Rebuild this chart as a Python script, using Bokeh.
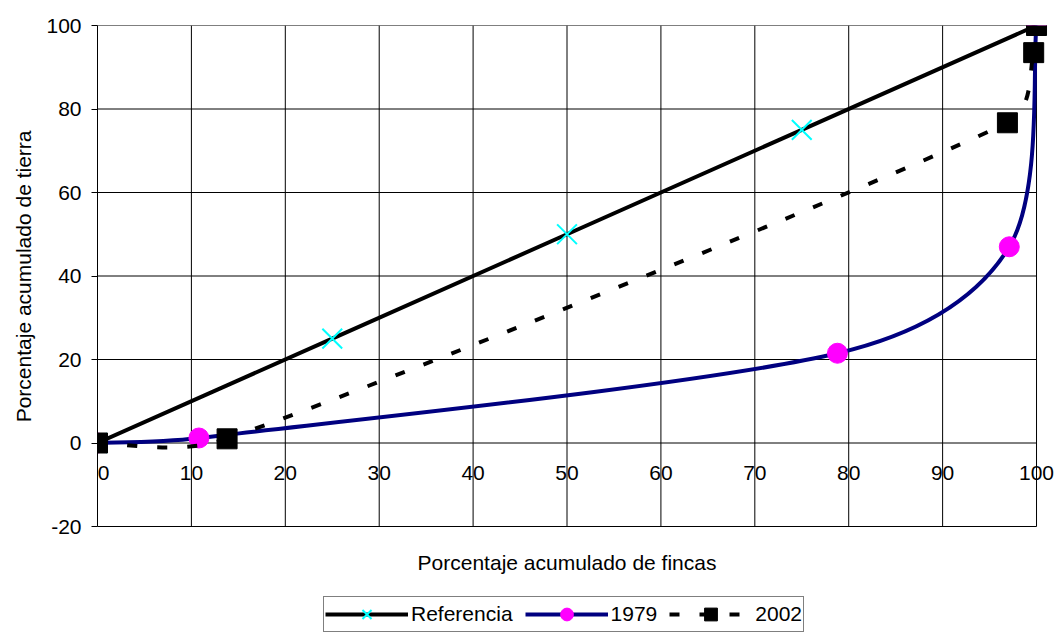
import math
from bokeh.plotting import figure
from bokeh.models import (ColumnDataSource, FixedTicker, Legend, LegendItem,
                          LabelSet, Label, Range1d, Title)
from bokeh.embed import file_html
from bokeh.resources import INLINE
from bokeh.core.properties import value

# ---------------- data ----------------
x_ticks = [0, 10, 20, 30, 40, 50, 60, 70, 80, 90, 100]
x_tick_labels = ["0", "10", "20", "30", "40", "50", "60", "70", "80", "90", "100"]
y_ticks = [-20, 0, 20, 40, 60, 80, 100]
y_tick_labels = ["-20", "0", "20", "40", "60", "80", "100"]

ref_x = [0, 25, 50, 75, 100]
ref_y = [0, 25, 50, 75, 100]

s1979_x = [0, 10.8, 78.8, 97.1, 100]
s1979_y = [0, 1.2, 21.5, 47.0, 100]

s2002_x = [0, 13.8, 96.9, 99.7, 100]
s2002_y = [0, 1.0, 76.7, 93.5, 100]

x_title = "Porcentaje acumulado de fincas"
y_title = "Porcentaje acumulado de tierra"
labels = ["Referencia", "1979", "2002"]

# ---------------- layout ----------------
FONT = "Liberation Sans"
FS = "21px"
W, H = 1057, 635
ML, MT = 96, 25
BOX_W, BOX_H = 940, 501          # plotting box for x 0..100, y -20..100
EXTRA_R = 19                     # frame continues right so the last tick label shows
MR = W - ML - BOX_W - EXTRA_R
MB = 0                           # frame continues down to hold the title and legend
XMIN, XMAX, YMIN, YMAX = 0, 100, -20, 100
KX = BOX_W / (XMAX - XMIN)
KY = BOX_H / (YMAX - YMIN)
X_FRAME_END = XMAX + EXTRA_R / KX
Y_FRAME_START = YMIN - (H - MT - BOX_H - MB) / KY


def smooth_segments(xs, ys, cap=0.4):
    """Bezier control points of a spreadsheet-style smoothed line."""
    n = len(xs)
    out = dict(x0=[], y0=[], x1=[], y1=[], cx0=[], cy0=[], cx1=[], cy1=[])
    for i in range(n - 1):
        xa, ya = xs[i], ys[i]
        xb, yb = xs[i + 1], ys[i + 1]
        xp, yp = (xs[i - 1], ys[i - 1]) if i > 0 else (xa, ya)
        xn, yn = (xs[i + 2], ys[i + 2]) if i + 2 < n else (xb, yb)
        seg = math.hypot((xb - xa) * KX, (yb - ya) * KY)
        t1x, t1y = (xb - xp) / 6.0, (yb - yp) / 6.0
        t2x, t2y = (xn - xa) / 6.0, (yn - ya) / 6.0
        l1 = math.hypot(t1x * KX, t1y * KY)
        l2 = math.hypot(t2x * KX, t2y * KY)
        if l1 > cap * seg and l1 > 0:
            s = cap * seg / l1
            t1x, t1y = t1x * s, t1y * s
        if l2 > cap * seg and l2 > 0:
            s = cap * seg / l2
            t2x, t2y = t2x * s, t2y * s
        out["x0"].append(xa); out["y0"].append(ya)
        out["x1"].append(xb); out["y1"].append(yb)
        out["cx0"].append(xa + t1x); out["cy0"].append(ya + t1y)
        out["cx1"].append(xb - t2x); out["cy1"].append(yb - t2y)
    return out


p = figure(width=W, height=H, x_range=Range1d(XMIN, X_FRAME_END),
           y_range=Range1d(Y_FRAME_START, YMAX),
           output_backend="svg", toolbar_location=None, x_axis_location=None,
           min_border_left=ML, min_border_right=MR, min_border_top=MT, min_border_bottom=MB)
p.background_fill_color = "white"
p.border_fill_color = "white"
p.outline_line_color = None
p.xgrid.visible = False
p.ygrid.visible = False

# grid lines limited to the box
p.segment(x0=[XMIN] * len(y_ticks), y0=y_ticks, x1=[XMAX] * len(y_ticks), y1=y_ticks,
          line_color="black", line_width=1)
p.segment(x0=x_ticks, y0=[YMIN] * len(x_ticks), x1=x_ticks, y1=[YMAX] * len(x_ticks),
          line_color="black", line_width=1)

# y axis
ya = p.yaxis[0]
ya.bounds = (YMIN, YMAX)
ya.ticker = FixedTicker(ticks=y_ticks)
ya.major_label_overrides = {t: s for t, s in zip(y_ticks, y_tick_labels)}
ya.major_tick_out = 6
ya.major_tick_in = 0
ya.minor_tick_out = 0
ya.minor_tick_in = 0
ya.axis_line_color = "black"
ya.major_tick_line_color = "black"
ya.major_label_text_font = FONT
ya.major_label_text_font_size = FS
ya.major_label_text_color = "black"
ya.major_label_standoff = 10

# y title: its top end 105 px below the frame top, centred on the box
p.add_layout(Title(text=y_title, align="right", offset=105, standoff=18,
                   text_font=FONT, text_font_size=FS, text_font_style="normal",
                   text_color="black"), "left")

# x tick labels at y = 0 and the x title below the box
tick_offsets = [6 if t == XMIN else 0 for t in x_ticks]
tick_src = ColumnDataSource(dict(x=x_ticks, y=[0] * len(x_ticks), text=x_tick_labels,
                                 dx=tick_offsets))
p.add_layout(LabelSet(x="x", y="y", text="text", source=tick_src,
                      text_align="center", text_baseline="top", y_offset=-23, x_offset="dx",
                      text_font=value(FONT), text_font_size=value(FS),
                      text_color="black"))
p.add_layout(Label(x=(XMIN + XMAX) / 2.0, y=YMIN, text=x_title, y_offset=-36,
                   text_align="center", text_baseline="middle",
                   text_font=FONT, text_font_size=FS, text_color="black"))

# Referencia
ref_line = p.line(ref_x, ref_y, line_color="black", line_width=4)
ref_pts = p.scatter(ref_x, ref_y, marker="x", size=28, line_color="#00FFFF", line_width=2)

# 1979
src79 = ColumnDataSource(smooth_segments(s1979_x, s1979_y))
b79 = p.bezier(x0="x0", y0="y0", x1="x1", y1="y1", cx0="cx0", cy0="cy0", cx1="cx1", cy1="cy1",
               source=src79, line_color="#000080", line_width=4)
pts79 = p.scatter(s1979_x, s1979_y, marker="circle", size=20,
                  fill_color="#FF00FF", line_color="#FF00FF")

# 2002
src02 = ColumnDataSource(smooth_segments(s2002_x, s2002_y))
b02 = p.bezier(x0="x0", y0="y0", x1="x1", y1="y1", cx0="cx0", cy0="cy0", cx1="cx1", cy1="cy1",
               source=src02, line_color="black", line_width=4, line_dash="10 20")
pts02 = p.scatter(s2002_x, s2002_y, marker="square", size=20,
                  fill_color="black", line_color="black")

legend = Legend(items=[LegendItem(label=labels[0], renderers=[ref_line, ref_pts]),
                       LegendItem(label=labels[1], renderers=[b79, pts79]),
                       LegendItem(label=labels[2], renderers=[b02, pts02])],
                orientation="horizontal", location=(226, 3),
                glyph_width=83, glyph_height=32, label_standoff=3, spacing=12,
                padding=1, margin=0,
                border_line_color="black", border_line_width=1,
                background_fill_color="white", background_fill_alpha=1.0,
                label_text_font=FONT, label_text_font_size=FS, label_text_color="black")
p.add_layout(legend)

open("out.html", "w").write(file_html(p, INLINE))
